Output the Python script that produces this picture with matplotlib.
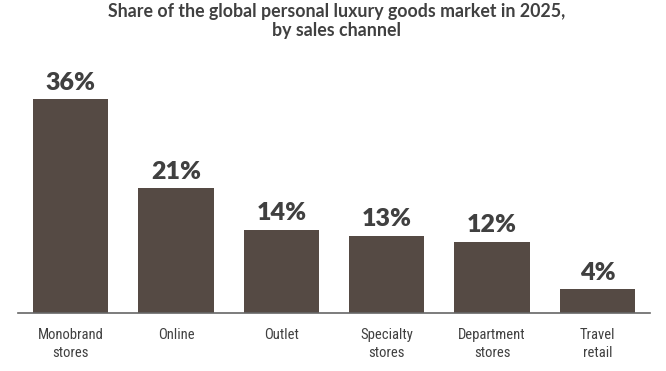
import matplotlib
matplotlib.use("Agg")
import matplotlib.pyplot as plt
from matplotlib import font_manager

# data
channels = ["Monobrand\nstores", "Online", "Outlet", "Specialty\nstores",
            "Department\nstores", "Travel\nretail"]
share = [36, 21, 14, 13, 12, 4]
labels = ["36%", "21%", "14%", "13%", "12%", "4%"]

title = "Share of the global personal luxury goods market in 2025,\nby sales channel"

bar_color = "#554a44"
text_color = "#404040"

# look for a condensed face for the tick labels
narrow_file = None
for want in ["Liberation Sans Narrow", "Roboto Condensed", "Open Sans Condensed",
             "DejaVu Sans"]:
    for f in font_manager.fontManager.ttflist:
        st = str(f.stretch)
        cond = ("ondensed" in st or "arrow" in f.name or "ondensed" in f.name
                or "Condensed" in f.fname or "Narrow" in f.fname)
        if f.name == want and cond and f.weight in (400, "normal", "regular") \
                and f.style == "normal":
            narrow_file = f.fname
            break
    if narrow_file:
        break

if narrow_file:
    tick_font = font_manager.FontProperties(fname=narrow_file, size=10.5)
else:
    tick_font = font_manager.FontProperties(family="Lato", size=9.5)

fig = plt.figure(figsize=(6.66, 3.71), dpi=100)
ax = fig.add_axes([0.027, 0.156, 0.949, 0.64])

x = range(len(share))
bars = ax.bar(x, share, width=0.715, color=bar_color)

for b, lab in zip(bars, labels):
    ax.annotate(lab, (b.get_x() + b.get_width() / 2, b.get_height()),
                xytext=(0, 4), textcoords="offset points",
                ha="center", va="bottom", fontsize=18, fontweight="heavy",
                color=text_color, family=["Lato", "DejaVu Sans"])

ax.set_xlim(-0.5, 5.5)
ax.set_ylim(0, 40)
ax.set_xticks(list(x))
ax.set_xticklabels(channels, fontproperties=tick_font, color=text_color,
                   linespacing=1.3)
ax.tick_params(axis="x", length=0, pad=11)
ax.set_yticks([])
for s in ["top", "right", "left"]:
    ax.spines[s].set_visible(False)
ax.spines["bottom"].set_color("#666666")
ax.spines["bottom"].set_linewidth(1.2)

fig.text(0.505, 0.993, title, ha="center", va="top", fontsize=12.8,
         fontweight="bold", color=text_color, family=["Lato", "DejaVu Sans"],
         linespacing=1.2)

fig.savefig("out.png", dpi=100)
